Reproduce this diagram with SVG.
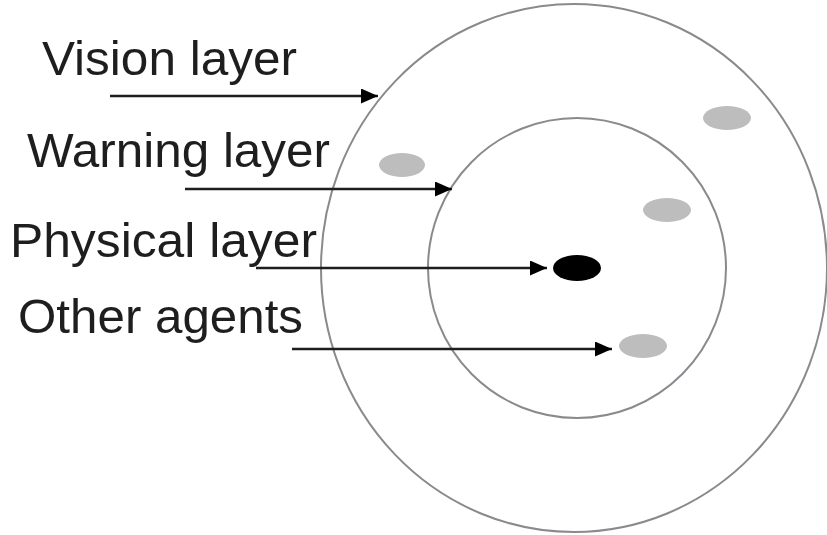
<svg xmlns="http://www.w3.org/2000/svg" width="827" height="535" viewBox="0 0 827 535">
<style>
.layer{fill:none;stroke:#8a8a8e;stroke-width:2}
.agent{fill:#bdbdbd}
.self{fill:#000}
.lbl{font-family:"Liberation Sans",Arial,sans-serif;font-size:49px;fill:#1e1e1e}
.conn{stroke:#1e1e1e;stroke-width:2.4;fill:none;marker-end:url(#ah)}
</style>
<defs>
<marker id="ah" markerWidth="17" markerHeight="15" refX="17" refY="7.5" orient="auto" markerUnits="userSpaceOnUse">
<path d="M0,0 L17,7.5 L0,15 Z" fill="#000"/>
</marker>
</defs>
<rect width="827" height="535" fill="#fff"/>
<g id="vision-layer"><ellipse class="layer" cx="574" cy="268" rx="253" ry="264"/></g>
<g id="warning-layer"><ellipse class="layer" cx="577" cy="268" rx="149" ry="150"/></g>
<g id="physical-agent"><ellipse class="self" cx="577" cy="268" rx="24" ry="13"/></g>
<g id="agent1"><ellipse class="agent" cx="402" cy="165" rx="23" ry="12"/></g>
<g id="agent2"><ellipse class="agent" cx="727" cy="118" rx="24" ry="12"/></g>
<g id="agent3"><ellipse class="agent" cx="667" cy="210" rx="24" ry="12"/></g>
<g id="agent4"><ellipse class="agent" cx="643" cy="346" rx="24" ry="12"/></g>
<g id="labels">
<text class="lbl" x="42" y="75" textLength="255" lengthAdjust="spacingAndGlyphs">Vision layer</text>
<text class="lbl" x="27" y="167" textLength="303" lengthAdjust="spacingAndGlyphs">Warning layer</text>
<text class="lbl" x="10" y="257" textLength="307" lengthAdjust="spacingAndGlyphs">Physical layer</text>
<text class="lbl" x="18" y="333" textLength="285" lengthAdjust="spacingAndGlyphs">Other agents</text>
</g>
<g id="connectors">
<line class="conn" x1="110" y1="96" x2="378" y2="96"/>
<line class="conn" x1="185" y1="189" x2="452" y2="189"/>
<line class="conn" x1="256" y1="268" x2="547" y2="268"/>
<line class="conn" x1="292" y1="349" x2="612" y2="349"/>
</g>
</svg>
